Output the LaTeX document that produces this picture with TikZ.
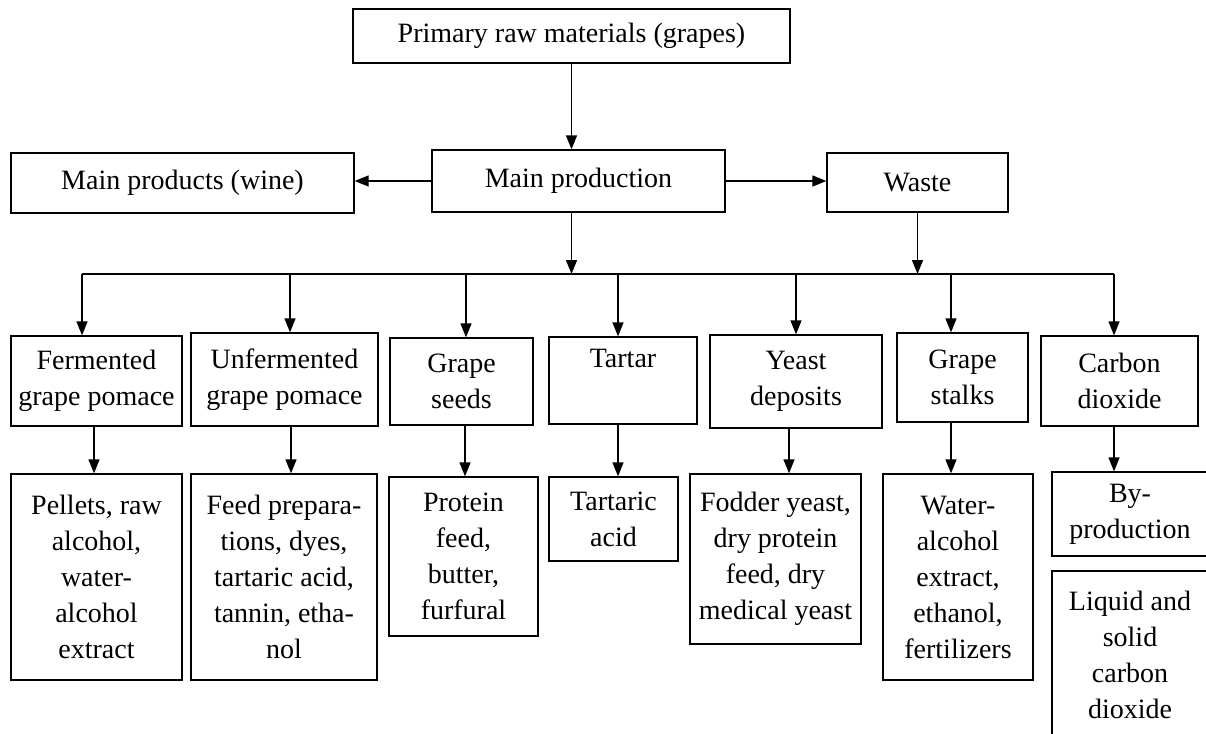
\documentclass[tikz,border=0pt]{standalone}
\usepackage{fontspec}
\setmainfont{Liberation Serif}
\usetikzlibrary{arrows.meta}
\definecolor{couleurtrait}{HTML}{000000}
\definecolor{couleurtext}{HTML}{000000}
\definecolor{couleurfond}{HTML}{FFFFFF}
\tikzset{
		basic/.style={draw=couleurtrait, line width=1.3pt, fill=couleurfond, text=couleurtext, align=center, inner sep=4pt, anchor=center},
		trait/.style={draw=couleurtrait, line width=1.3pt},
		fleche/.style={trait, -{Triangle[length=14pt, width=11pt]}}
	}
\begin{document}
\begin{tikzpicture}[x=1pt, y=-1pt]
		\fontsize{28}{36} \selectfont
		\useasboundingbox (0,0) rectangle (1206,733);
		\clip (0,0) rectangle (1206,733);
		% haut
		\node[basic, minimum width=437pt, minimum height=54pt](primmatr) at (571.5,36) {Primary raw materials (grapes)};
		\node[basic, minimum width=293pt, minimum height=62pt](mainprod) at (578.5,181) {Main production};
		\node[basic, minimum width=343pt, minimum height=60pt](mainwine) at (182.5,183) {Main products (wine)};
		\node[basic, minimum width=181pt, minimum height=59pt](waste) at (917.5,182.5) {Waste};
		% 1re ligne
		\node[basic, minimum width=171pt, minimum height=90pt](fermpoma) at (96.5,381) {Fermented\\grape pomace};
		\node[basic, minimum width=187pt, minimum height=93pt](unfepoma) at (284.5,379.5) {Unfermented\\grape pomace};
		\node[basic, minimum width=143pt, minimum height=87pt](grapseed) at (461.5,381.5) {Grape\\seeds};
		\node[basic, minimum width=148pt, minimum height=87pt, text depth=44pt](tartar) at (623,380.5) {Tartar};
		\node[basic, minimum width=172pt, minimum height=93pt](yeasdepo) at (796,381.5) {Yeast\\deposits};
		\node[basic, minimum width=131pt, minimum height=89pt](grapstal) at (962.5,377.5) {Grape\\stalks};
		\node[basic, minimum width=157pt, minimum height=90pt](carbdiox) at (1119.5,381) {Carbon\\dioxide};
		% 2me ligne
		\node[basic, minimum width=171pt, minimum height=206pt](pellets) at (96.5,577) {Pellets, raw\\alcohol,\\water-\\alcohol\\extract};
		\node[basic, minimum width=186pt, minimum height=206pt](feedprep) at (284,577) {Feed prepara-\\tions, dyes,\\tartaric acid,\\tannin, etha-\\nol};
		\node[basic, minimum width=149pt, minimum height=159pt](protfeed) at (463.5,556.5) {Protein\\feed,\\butter,\\furfural};
		\node[basic, minimum width=129pt, minimum height=84pt](tartacid) at (613.5,519) {Tartaric\\acid};
		\node[basic, minimum width=171pt, minimum height=170pt](foddyeas) at (775.5,559) {Fodder yeast,\\dry protein\\feed, dry\\medical yeast};
		\node[basic, minimum width=150pt, minimum height=206pt](wateralc) at (958,577) {Water-\\alcohol\\extract,\\ethanol,\\fertilizers};
		\node[basic, minimum width=156pt, minimum height=84pt](byprodct) at (1130,514) {By-\\production};
		\node[basic, minimum width=156pt, minimum height=168pt](liqusoli) at (1130,655) {Liquid and\\solid\\carbon\\dioxide};
		% fleches
		\draw[fleche] (primmatr.south) -- (primmatr.south |- mainprod.north);
		\draw[fleche] (mainprod.west) -- (mainprod.west -| mainwine.east);
		\draw[fleche] (mainprod.east) -- (mainprod.east -| waste.west);
		\foreach \nom/\x in {fermpoma/82, unfepoma/290, grapseed/466, tartar/618, yeasdepo/796, grapstal/951, carbdiox/1114} {
			\coordinate (b\nom) at (\x,274);
			\draw[fleche] (b\nom) -- (b\nom |- \nom.north);
		}
		\draw[trait] (bfermpoma) -- (bcarbdiox);
		\draw[fleche] (primmatr.south |- mainprod.south) -- (primmatr.south |- bfermpoma);
		\draw[fleche] (waste.south) -- (waste.south |- bfermpoma);
		\foreach \haut/\bas/\x in {fermpoma/pellets/94, unfepoma/feedprep/291, grapseed/protfeed/465, tartar/tartacid/618, yeasdepo/foddyeas/789, grapstal/wateralc/951, carbdiox/byprodct/1114} {
			\coordinate (m\haut) at (\x,0);
			\draw[fleche] (\haut.south -| m\haut) -- (\bas.north -| m\haut);
		}
	\end{tikzpicture}
\end{document}
